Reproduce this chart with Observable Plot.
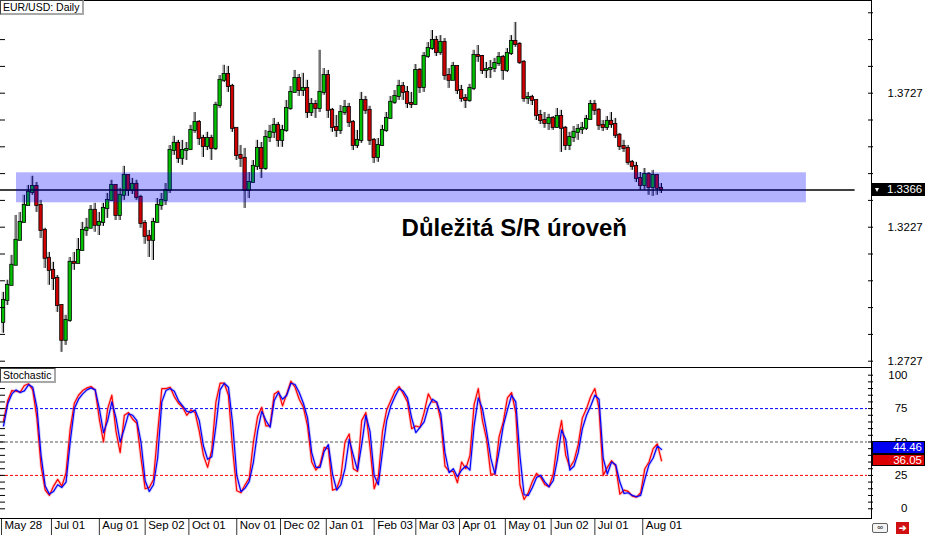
<!DOCTYPE html>
<html><head><meta charset="utf-8">
<script src="https://cdn.jsdelivr.net/npm/d3@7"></script>
<script src="https://cdn.jsdelivr.net/npm/@observablehq/plot@0.6"></script>
<style>
body{margin:0;background:#fff;}
#chart{position:relative;width:925px;height:535px;overflow:hidden;font-family:'Liberation Sans',Arial,sans-serif;background:#fff;}
#chart svg{display:block;}
.tag{position:absolute;left:0;background:#fff;font-size:10.5px;line-height:12px;padding:0 3px 0 2px;border-left:1px solid #404040;border-top:1px solid #404040;border-right:2px solid #a8a8a8;border-bottom:2px solid #a8a8a8;color:#000;white-space:nowrap;}
.vbox{position:absolute;left:872px;width:53px;box-sizing:border-box;color:#fff;font-size:11.5px;white-space:nowrap;}
.tri{position:absolute;left:3px;top:5px;width:0;height:0;border-left:2.5px solid transparent;border-right:2.5px solid transparent;border-top:4px solid #fff;}
.ico1{position:absolute;left:872px;top:523px;width:14px;height:8px;border:1px solid #606060;border-radius:2px;background:#f4f4f4;font-size:8px;line-height:8px;text-align:center;color:#000;}
.ico2{position:absolute;left:896px;top:522px;width:13px;height:12px;background:#d01010;color:#fff;font-size:9px;line-height:12px;text-align:center;font-weight:bold;}
</style></head><body><div id="chart"></div>
<script>
// ---------- data (EUR/USD daily, 2-day candles) ----------
const firstOpen = 1.2872;
const closes = [
1.2954,1.3010,1.3085,1.3178,1.3245,1.3308,1.3357,1.3379,1.3308,1.3215,
1.3111,1.3066,1.3036,1.2935,1.2805,1.2879,1.3096,1.3092,1.3140,1.3215,
1.3223,1.3290,1.3234,1.3245,1.3297,1.3327,1.3383,1.3271,1.3346,1.3420,
1.3364,1.3387,1.3338,1.3241,1.3193,1.3178,1.3245,1.3308,1.3327,1.3364,
1.3513,1.3540,1.3484,1.3513,1.3517,1.3588,1.3618,1.3558,1.3528,1.3558,
1.3521,1.3681,1.3775,1.3797,1.3752,1.3596,1.3495,1.3484,1.3364,1.3394,
1.3454,1.3521,1.3446,1.3562,1.3581,1.3607,1.3551,1.3588,1.3670,1.3730,
1.3782,1.3737,1.3745,1.3655,1.3685,1.3670,1.3730,1.3793,1.3663,1.3599,
1.3588,1.3655,1.3674,1.3618,1.3532,1.3551,1.3700,1.3663,1.3551,1.3487,
1.3532,1.3588,1.3633,1.3693,1.3715,1.3752,1.3730,1.3689,1.3685,1.3812,
1.3748,1.3864,1.3894,1.3924,1.3879,1.3916,1.3793,1.3775,1.3827,1.3737,
1.3707,1.3700,1.3745,1.3868,1.3864,1.3812,1.3815,1.3819,1.3838,1.3860,
1.3812,1.3875,1.3920,1.3909,1.3842,1.3707,1.3711,1.3700,1.3644,1.3625,
1.3614,1.3633,1.3599,1.3640,1.3596,1.3532,1.3562,1.3581,1.3592,1.3596,
1.3629,1.3685,1.3663,1.3607,1.3599,1.3622,1.3610,1.3570,1.3528,1.3521,
1.3469,1.3454,1.3409,1.3383,1.3424,1.3375,1.3420,1.3372,1.3366];
const highs = [
1.2984,1.3029,1.3122,1.3271,1.3282,1.3346,1.3383,1.3417,1.3394,1.3327,
1.3223,1.3133,1.3096,1.3047,1.2924,1.2898,1.3114,1.3133,1.3185,1.3245,
1.3260,1.3308,1.3316,1.3282,1.3316,1.3353,1.3402,1.3364,1.3372,1.3454,
1.3409,1.3409,1.3402,1.3346,1.3252,1.3215,1.3260,1.3334,1.3353,1.3390,
1.3532,1.3566,1.3551,1.3551,1.3543,1.3607,1.3655,1.3625,1.3570,1.3581,
1.3570,1.3693,1.3793,1.3831,1.3827,1.3760,1.3596,1.3532,1.3521,1.3431,
1.3476,1.3551,1.3543,1.3588,1.3607,1.3633,1.3618,1.3607,1.3700,1.3752,
1.3812,1.3797,1.3801,1.3775,1.3707,1.3700,1.3887,1.3819,1.3812,1.3670,
1.3644,1.3681,1.3700,1.3689,1.3625,1.3588,1.3730,1.3715,1.3678,1.3558,
1.3558,1.3607,1.3655,1.3715,1.3737,1.3775,1.3767,1.3752,1.3730,1.3834,
1.3819,1.3879,1.3916,1.3961,1.3939,1.3942,1.3931,1.3819,1.3842,1.3827,
1.3756,1.3722,1.3760,1.3887,1.3905,1.3868,1.3842,1.3849,1.3857,1.3879,
1.3868,1.3894,1.3942,1.3991,1.3916,1.3849,1.3730,1.3719,1.3700,1.3663,
1.3655,1.3648,1.3640,1.3670,1.3663,1.3603,1.3581,1.3603,1.3610,1.3618,
1.3644,1.3700,1.3700,1.3670,1.3625,1.3640,1.3655,1.3633,1.3577,1.3551,
1.3532,1.3476,1.3469,1.3431,1.3446,1.3431,1.3439,1.3424,1.3390];
const lows = [
1.2831,1.2935,1.3010,1.3085,1.3196,1.3245,1.3308,1.3346,1.3282,1.3185,
1.3073,1.3010,1.2991,1.2909,1.2760,1.2786,1.2872,1.3066,1.3096,1.3140,
1.3193,1.3223,1.3208,1.3196,1.3230,1.3260,1.3327,1.3252,1.3252,1.3327,
1.3342,1.3349,1.3327,1.3223,1.3163,1.3114,1.3103,1.3245,1.3290,1.3308,
1.3353,1.3495,1.3465,1.3458,1.3476,1.3513,1.3577,1.3532,1.3487,1.3513,
1.3476,1.3513,1.3670,1.3767,1.3730,1.3581,1.3476,1.3450,1.3297,1.3334,
1.3394,1.3439,1.3409,1.3439,1.3543,1.3558,1.3525,1.3525,1.3581,1.3663,
1.3730,1.3715,1.3715,1.3633,1.3640,1.3633,1.3655,1.3719,1.3633,1.3581,
1.3562,1.3573,1.3644,1.3599,1.3513,1.3521,1.3540,1.3648,1.3532,1.3465,
1.3469,1.3528,1.3581,1.3633,1.3685,1.3700,1.3700,1.3670,1.3670,1.3685,
1.3726,1.3730,1.3857,1.3887,1.3864,1.3868,1.3775,1.3745,1.3775,1.3722,
1.3693,1.3670,1.3693,1.3737,1.3842,1.3797,1.3782,1.3782,1.3804,1.3827,
1.3775,1.3804,1.3868,1.3898,1.3834,1.3693,1.3685,1.3681,1.3625,1.3610,
1.3596,1.3588,1.3588,1.3596,1.3506,1.3513,1.3513,1.3543,1.3551,1.3573,
1.3588,1.3633,1.3644,1.3588,1.3584,1.3588,1.3596,1.3558,1.3513,1.3506,
1.3458,1.3439,1.3394,1.3364,1.3364,1.3346,1.3342,1.3346,1.3353];
const stochK = [
66,81,88.5,88,87.3,92.3,93.6,89,68,32,
14,10,17,22,17,27,60,79,85,88.5,
90.5,91.5,89,67,50,75,85,58,42,70,
72,67,64,38,15,16,22,57,90,90,
91,84,79,76,70,74,72,58,40,31,
44,80,94,94,85,45,13.5,12,18,23,
50,69,76,62,62,86,88,77,86,95.5,
91,82,76,62,35,29,33,46,45,14,
15,24,50,56,30,28,66,72,46,15,
24,58,74,81,88,91.5,86,80,60,62,
61,72,86,80,79.8,66,32,28,28,19.5,
35,30,40,78,90,66,52,26,26,54,
65,83,87,72,18,7,12,20.5,26.5,23.5,
18,16.5,26,50,66,40,31,36,48,68,
75,84,90,75,25,31,36,32,11,14,
13,9.5,8.7,12,30,35,45,48.6,36.05];
const stochD = [
62,78.6,86,89,87,88.3,93,91,76,40,
17,11,13,18,16,20,50,75,82,86,
89,90.5,89,75,57,66,80,68,50,60,
71,70,66,50,21,13,18,38,80,88.5,
90,88,81,77,73,72,74,66,47,37,
39,62,89,94,91,64,25,12.8,15.5,20.5,
35,58,73,66,61,81,87,82,85,94,
93,87,79,68,42,31,31,43,48,26,
14,18,30,52,40,29,48,70,58,25,
18,43,66,77,84,90,88,83,68,57,
61,65,76,82,80,71,42,27,30,24,
29,32,29,62,83,75,58,38,26,43,
62,74,85,80,40,10.5,10,16,23.5,25,
20,16.5,21,37,59,52,29,32,42,60,
70,77,85,82,38,26,35,33,20,11.5,
12,10,9,10,22,33,38,47,44.46];
const monthDays = [0,24,47,69,90,113,134,156,179,199,220,242,264,285,308];
const monthLabels = ["May 28","Jul 01","Aug 01","Sep 02","Oct 01","Nov 01","Dec 02","Jan 01","Feb 03","Mar 03","Apr 01","May 01","Jun 02","Jul 01","Aug 01"];
const priceLabelTicks = [1.2727, 1.3227, 1.3727];
const priceMinorTicks = [1.2727,1.2827,1.2927,1.3027,1.3127,1.3227,1.3327,1.3427,1.3527,1.3627,1.3727,1.3827,1.3927,1.4027];
const stochLabelTicks = [0, 25, 50, 75, 100];
const stochMinorTicks = [0,5,10,15,20,25,30,35,40,45,50,55,60,65,70,75,80,85,90,95,100];
const stochLevels = [75, 50, 25];
const stochLevelColors = ["#0000ff", "#555555", "#ff0000"];
const srLevel = 1.3366;
const srEndDay = 410;
const zone = {fromDay: 7.2, toDay: 386.6, low: 1.3318, high: 1.3430};
const note = {text: "Důležitá S/R úroveň", day: 246.3, price: 1.3222};
const dayDomain = [-0.48, 418.35];
const priceDomain = [1.269976, 1.40729];
const stochDomain = [-8.01, 105.01];

// ---------- derived tables ----------
const candles = closes.map((c, i) => {
  const open = i === 0 ? firstOpen : closes[i - 1];
  return {day: 2 * i, open, close: c, high: Math.max(highs[i], open, c), low: Math.min(lows[i], open, c)};
});
const stoch = stochK.map((k, i) => ({day: 2 * i + 1, k, d: stochD[i]}));
const lastK = stochK[stochK.length - 1], lastD = stochD[stochD.length - 1];

const FONT = "'Liberation Sans', Arial, sans-serif";

function borders(sides) {
  return (index, scales, values, dims) => {
    const r = dims.width - dims.marginRight, b = dims.height - dims.marginBottom;
    const g = d3.create("svg:g").attr("stroke", "#000").attr("shape-rendering", "crispEdges");
    if (sides.includes("top")) g.append("line").attr("x1", 0).attr("x2", r).attr("y1", 0.5).attr("y2", 0.5);
    if (sides.includes("bottom")) g.append("line").attr("x1", 0).attr("x2", r).attr("y1", b - 0.5).attr("y2", b - 0.5);
    if (sides.includes("right")) g.append("line").attr("x1", r - 0.5).attr("x2", r - 0.5).attr("y1", 0).attr("y2", b);
    return g.node();
  };
}

const style = {fontFamily: FONT, fontSize: "11.5px", background: "transparent", overflow: "visible", color: "#000"};

const pricePlot = Plot.plot({
  width: 925, height: 368,
  marginLeft: 0, marginRight: 53, marginTop: 0, marginBottom: 0,
  style,
  x: {domain: dayDomain, axis: null, label: null},
  y: {domain: priceDomain, axis: null, label: null},
  marks: [
    Plot.ruleX(candles, {x: d => d.day + 1, y1: "low", y2: "high", stroke: "#8c8c8c", strokeWidth: 1.4, strokeOpacity: 0.7, dx: -1.3}),
    Plot.ruleX(candles, {x: d => d.day + 1, y1: "low", y2: "high", stroke: "#000", strokeWidth: 1}),
    Plot.rect(candles, {
      x1: d => d.day + 0.2, x2: d => d.day + 1.8, y1: "open", y2: "close",
      fill: d => d.close >= d.open ? "#00c000" : "#d00000",
      stroke: "#000", strokeWidth: 0.8, insetTop: -0.5, insetBottom: -0.5
    }),
    Plot.ruleY([srLevel], {x1: dayDomain[0], x2: srEndDay, stroke: "#000", strokeWidth: 1.6}),
    Plot.rect([zone], {x1: "fromDay", x2: "toDay", y1: "low", y2: "high", fill: "#0000ff", fillOpacity: 0.3}),
    Plot.text([note], {x: "day", y: "price", text: "text", fontSize: 24, fontWeight: "bold", fill: "#000", fontFamily: FONT}),
    Plot.axisY(priceMinorTicks, {anchor: "right", tickSize: 5, dx: -5, tickFormat: () => "", stroke: "#000"}),
    Plot.axisY(priceMinorTicks, {anchor: "left", tickSize: 5, dx: 5, tickFormat: () => "", stroke: "#000"}),
    Plot.axisY(priceLabelTicks, {anchor: "right", tickSize: 0, tickPadding: 15, textAnchor: "start", tickFormat: d => d.toFixed(4), fontSize: 11.5, fill: "#000"}),
    borders(["top", "right", "bottom"])
  ]
});

const stochPlot = Plot.plot({
  width: 925, height: 167,
  marginLeft: 0, marginRight: 53, marginTop: 0, marginBottom: 16,
  style,
  x: {domain: dayDomain, axis: null, label: null},
  y: {domain: stochDomain, axis: null, label: null},
  marks: [
    stochLevels.map((lv, i) => Plot.ruleY([lv], {stroke: stochLevelColors[i], strokeDasharray: "3,2", insetRight: 5, strokeWidth: 1})),
    Plot.line(stoch, {x: "day", y: "k", stroke: "#ff7070", strokeWidth: 3, strokeOpacity: 0.35}),
    Plot.line(stoch, {x: "day", y: "d", stroke: "#7070ff", strokeWidth: 3, strokeOpacity: 0.35}),
    Plot.line(stoch, {x: "day", y: "k", stroke: "#ff0000", strokeWidth: 1.2}),
    Plot.line(stoch, {x: "day", y: "d", stroke: "#0000ff", strokeWidth: 1.2}),
    Plot.axisY(stochMinorTicks, {anchor: "right", tickSize: 5, dx: -5, tickFormat: () => "", stroke: "#000"}),
    Plot.axisY(stochMinorTicks, {anchor: "left", tickSize: 5, dx: 5, tickFormat: () => "", stroke: "#000"}),
    Plot.axisY(stochLabelTicks, {anchor: "right", tickSize: 0, tickPadding: 35, textAnchor: "end", tickFormat: d => String(d), fontSize: 11.5, fill: "#000"}),
    Plot.axisX(monthDays, {anchor: "bottom", tickSize: 16, tickFormat: () => "", stroke: "#333"}),
    Plot.text(monthDays, {x: d => d, frameAnchor: "bottom", dy: 9, dx: 3, textAnchor: "start", text: (d, i) => monthLabels[i], fontSize: 11.5, fill: "#000"}),
    borders(["right", "bottom"])
  ]
});

const root = document.getElementById("chart");
root.appendChild(pricePlot);
root.appendChild(stochPlot);

function addDiv(cls, css, text) {
  const el = document.createElement("div");
  el.className = cls;
  Object.assign(el.style, css);
  if (text != null) el.textContent = text;
  root.appendChild(el);
  return el;
}
addDiv("tag", {top: "0px"}, "EUR/USD: Daily");
addDiv("tag", {top: "368px"}, "Stochastic");

// value tags on the right scale, placed through the plots' own y scales
const yPrice = pricePlot.scale("y").apply(srLevel);
const pTag = addDiv("vbox", {top: (yPrice - 6) + "px", height: "13px", background: "#000", lineHeight: "13px", paddingLeft: "15px"}, srLevel.toFixed(4));
const tri = document.createElement("div"); tri.className = "tri"; pTag.appendChild(tri);

const sy = stochPlot.scale("y");
const yK = 368 + sy.apply(lastK), yD = 368 + sy.apply(lastD);
const h = 12.5;
const kTop = yK - h / 2;
const dTop = Math.min(yD + h / 2, kTop) - h;
addDiv("vbox", {top: dTop + "px", height: h + "px", background: "#0000f0", border: "1px solid #000", lineHeight: (h - 2) + "px", textAlign: "right", paddingRight: "2px"}, lastD.toFixed(2));
addDiv("vbox", {top: kTop + "px", height: h + "px", background: "#dd0000", border: "1px solid #000", lineHeight: (h - 2) + "px", textAlign: "right", paddingRight: "2px"}, lastK.toFixed(2));

addDiv("ico1", {}, "∞");
addDiv("ico2", {}, "➔");
</script></body></html>
